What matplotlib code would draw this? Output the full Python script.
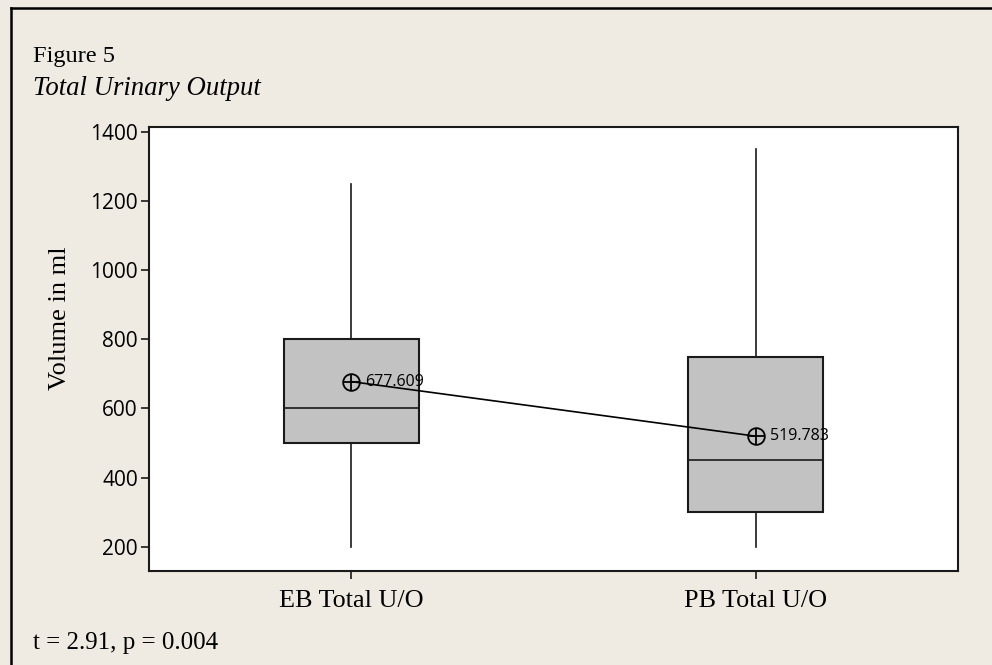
import matplotlib.pyplot as plt
from matplotlib.lines import Line2D

# data
groups = ['EB Total U/O', 'PB Total U/O']
whislo = [200, 200]
q1 = [500, 300]
med = [600, 450]
q3 = [800, 750]
whishi = [1250, 1350]
means = [677.609, 519.783]
yticks = [200, 400, 600, 800, 1000, 1200, 1400]

bg = '#efebe2'
fig = plt.figure(figsize=(9.92, 6.65), dpi=100, facecolor=bg)
ax = fig.add_axes([0.1502, 0.1414, 0.8155, 0.6677])
ax.set_facecolor('white')

stats = []
for i in range(len(groups)):
    stats.append({'whislo': whislo[i], 'q1': q1[i], 'med': med[i], 'q3': q3[i],
                  'whishi': whishi[i], 'fliers': [], 'label': groups[i]})
pos = list(range(1, len(groups) + 1))
ax.bxp(stats, positions=pos, widths=0.333, showcaps=False, patch_artist=True,
       boxprops=dict(facecolor='#c2c2c2', edgecolor='#1a1a1a', linewidth=1.5),
       medianprops=dict(color='#1a1a1a', linewidth=1.2),
       whiskerprops=dict(color='#1a1a1a', linewidth=1.2))

# mean connect line + circle-cross symbols
ax.plot(pos, means, color='black', lw=1.2, zorder=4)
ax.plot(pos, means, ls='none', marker='o', ms=12, mfc='none', mec='black', mew=1.3, zorder=5)
ax.plot(pos, means, ls='none', marker='+', ms=12, mec='black', mew=1.3, zorder=5)
for p, m in zip(pos, means):
    ax.text(p + 0.035, m, f'{m:.3f}', fontsize=11.5, family='Open Sans', va='center', ha='left', zorder=6)

ax.set_xlim(0.5, 2.5)
ax.set_ylim(130, 1414)
ax.set_yticks(yticks)
ax.set_yticklabels([str(v) for v in yticks], family='Open Sans', fontsize=15)
ax.set_xticks(pos)
ax.set_xticklabels(groups, family='Liberation Serif', fontsize=18.8)
ax.tick_params(axis='both', direction='out', length=6, width=1.2, color='#1a1a1a')
ax.tick_params(axis='x', pad=8)
ax.tick_params(axis='y', pad=2)
for s in ax.spines.values():
    s.set_linewidth(1.5)
    s.set_color('#1a1a1a')
ax.set_ylabel('Volume in ml', family='Liberation Serif', fontsize=19)
ax.yaxis.set_label_coords(-0.097, 0.57)

fig.text(0.033, 0.915, 'Figure 5', family='Liberation Serif', fontsize=17.6, va='center')
fig.text(0.033, 0.867, 'Total Urinary Output', family='Liberation Serif', style='italic',
         fontsize=19.3, va='center')
fig.text(0.033, 0.033, 't = 2.91, p = 0.004', family='Liberation Serif', fontsize=18, va='center')

# outer frame (left and top only)
fig.add_artist(Line2D([0.0111, 0.0111], [0, 0.988], color='black', lw=1.8, transform=fig.transFigure))
fig.add_artist(Line2D([0.0111, 1.0], [0.988, 0.988], color='black', lw=1.8, transform=fig.transFigure))

fig.savefig('out.png', dpi=100, facecolor=bg)
